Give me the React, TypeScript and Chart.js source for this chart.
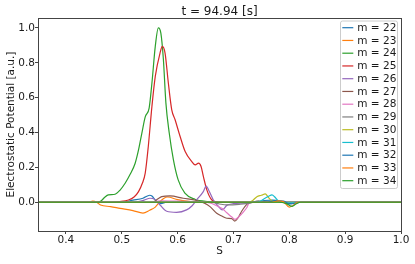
import React, { useEffect, useRef } from 'react';
import { Chart, registerables } from 'chart.js';

Chart.register(...registerables);

const TITLE = 't = 94.94 [s]';
const X_LABEL = 'S';
const Y_LABEL = 'Electrostatic Potential [a.u.]';

const xTicks = [0.4, 0.5, 0.6, 0.7, 0.8, 0.9, 1.0];
const yTicks = [0.0, 0.2, 0.4, 0.6, 0.8, 1.0];

const modes = [22, 23, 24, 25, 26, 27, 28, 29, 30, 31, 32, 33, 34];
const colors = [
  '#1f77b4', '#ff7f0e', '#2ca02c', '#d62728', '#9467bd', '#8c564b', '#e377c2',
  '#7f7f7f', '#bcbd22', '#17becf', '#1f77b4', '#ff7f0e', '#2ca02c',
];

type P = [number, number];

const m22: P[] = [[0.35, 0], [0.5, 0], [0.52, 0.012], [0.538, 0.023], [0.55, 0.04], [0.554, 0.036], [0.562, 0.005], [0.57, -0.008], [0.58, 0], [0.74, 0], [0.755, 0.01], [0.77, 0.012], [0.785, 0.005], [0.8, -0.008], [0.81, 0], [1.0, 0]];
const m23: P[] = [[0.35, 0], [0.44, 0], [0.448, 0.006], [0.455, 0], [0.462, -0.016], [0.48, -0.025], [0.497, -0.035], [0.52, -0.048], [0.538, -0.062], [0.55, -0.046], [0.56, -0.028], [0.568, 0.002], [0.575, 0.022], [0.582, 0.03], [0.6, 0.015], [0.62, 0.005], [0.64, 0], [1.0, 0]];
const m24: P[] = [[0.35, 0], [0.455, 0], [0.462, 0.005], [0.47, 0.03], [0.476, 0.042], [0.488, 0.046], [0.497, 0.07], [0.506, 0.109], [0.515, 0.16], [0.524, 0.224], [0.53, 0.3], [0.536, 0.397], [0.542, 0.49], [0.549, 0.54], [0.554, 0.684], [0.56, 0.894], [0.5655, 1.0], [0.57, 0.97], [0.5745, 0.82], [0.579, 0.57], [0.585, 0.397], [0.5925, 0.243], [0.601, 0.128], [0.613, 0.052], [0.631, 0.017], [0.655, 0.004], [0.68, 0], [1.0, 0]];
const m25: P[] = [[0.35, 0], [0.48, 0], [0.495, 0.004], [0.512, 0.013], [0.522, 0.03], [0.53, 0.061], [0.537, 0.11], [0.542, 0.167], [0.5475, 0.32], [0.554, 0.55], [0.56, 0.722], [0.5685, 0.856], [0.5726, 0.894], [0.5775, 0.856], [0.5834, 0.684], [0.5895, 0.53], [0.5955, 0.473], [0.6045, 0.377], [0.6135, 0.291], [0.6255, 0.233], [0.6315, 0.214], [0.6375, 0.224], [0.642, 0.205], [0.6462, 0.147], [0.6523, 0.071], [0.6613, 0.013], [0.673, 0], [1.0, 0]];
const m26: P[] = [[0.35, 0], [0.52, 0], [0.54, 0.012], [0.5505, 0.023], [0.5595, 0.015], [0.5685, -0.016], [0.5805, -0.052], [0.598, -0.058], [0.616, -0.044], [0.626, -0.02], [0.634, 0.013], [0.646, 0.061], [0.651, 0.092], [0.657, 0.06], [0.664, 0.013], [0.672, -0.02], [0.68, -0.044], [0.688, -0.018], [0.7, -0.008], [0.72, -0.005], [0.735, 0], [1.0, 0]];
const m27: P[] = [[0.35, 0], [0.555, 0], [0.565, 0.02], [0.5716, 0.032], [0.5865, 0.036], [0.61, 0.023], [0.634, 0.01], [0.648, -0.005], [0.658, -0.025], [0.67, -0.063], [0.679, -0.079], [0.688, -0.092], [0.697, -0.094], [0.7025, -0.108], [0.709, -0.085], [0.715, -0.05], [0.724, -0.012], [0.732, 0], [1.0, 0]];
const m28: P[] = [[0.35, 0], [0.55, 0], [0.57, 0.008], [0.6, 0.006], [0.64, 0.004], [0.66, -0.006], [0.67, -0.02], [0.679, -0.035], [0.688, -0.06], [0.697, -0.085], [0.703, -0.098], [0.709, -0.085], [0.718, -0.055], [0.724, -0.03], [0.728, -0.005], [0.735, 0], [1.0, 0]];
const m29: P[] = [[0.35, 0], [0.66, 0], [0.675, -0.01], [0.69, -0.015], [0.71, -0.012], [0.73, -0.005], [0.745, 0.008], [0.755, 0.004], [0.77, 0], [1.0, 0]];
const m30: P[] = [[0.35, 0], [0.728, 0], [0.735, 0.012], [0.742, 0.032], [0.75, 0.04], [0.757, 0.048], [0.762, 0.03], [0.768, 0.01], [0.775, 0], [1.0, 0]];
const m31: P[] = [[0.35, 0], [0.74, 0], [0.748, 0.006], [0.755, 0.02], [0.763, 0.034], [0.769, 0.042], [0.774, 0.03], [0.779, 0.012], [0.79, 0.003], [0.8, 0], [1.0, 0]];
const m32: P[] = [[0.35, 0], [0.76, 0], [0.775, 0.01], [0.79, 0.006], [0.8, -0.01], [0.81, -0.006], [0.82, 0], [1.0, 0]];
const m33: P[] = [[0.35, 0], [0.77, 0], [0.78, 0.008], [0.79, 0.002], [0.8, -0.028], [0.806, -0.02], [0.815, 0], [1.0, 0]];
const m34: P[] = [[0.35, 0], [0.78, 0], [0.795, -0.008], [0.805, -0.024], [0.812, -0.01], [0.82, 0], [1.0, 0]];

const seriesValues = [m22, m23, m24, m25, m26, m27, m28, m29, m30, m31, m32, m33, m34];

const FONT = 'DejaVu Sans';
const TEXT = '#1a1a1a';
const FRAME = '#444444';

const overlay = {
  id: 'overlay',
  afterDraw(chart: any) {
    const { ctx, chartArea: a } = chart;
    ctx.save();
    // frame
    ctx.strokeStyle = FRAME;
    ctx.lineWidth = 1;
    ctx.strokeRect(Math.round(a.left) + 0.5, Math.round(a.top) + 0.5, Math.round(a.right - a.left), Math.round(a.bottom - a.top));
    // title
    ctx.fillStyle = TEXT;
    ctx.font = `12px "${FONT}"`;
    ctx.textAlign = 'center';
    ctx.textBaseline = 'alphabetic';
    ctx.fillText(TITLE, (a.left + a.right) / 2, 15);
    // legend
    const bx = 340, by = 20.5, bw = 57, bh = 167.5;
    ctx.fillStyle = 'rgba(255,255,255,0.8)';
    ctx.strokeStyle = '#cccccc';
    ctx.beginPath();
    (ctx as any).roundRect(bx + 0.5, by + 0.5, bw, bh, 2);
    ctx.fill();
    ctx.stroke();
    ctx.font = `10.5px "${FONT}"`;
    ctx.textAlign = 'left';
    ctx.textBaseline = 'middle';
    chart.data.datasets.forEach((ds: any, i: number) => {
      const y = 27.7 + i * 12.75;
      ctx.strokeStyle = ds.borderColor;
      ctx.lineWidth = 1.2;
      ctx.beginPath();
      ctx.moveTo(342.3, y);
      ctx.lineTo(353.3, y);
      ctx.stroke();
      ctx.fillStyle = TEXT;
      ctx.fillText(ds.label, 357.3, y + 0.5);
    });
    ctx.restore();
  },
};

export default function App() {
  const ref = useRef<HTMLCanvasElement>(null);
  useEffect(() => {
    document.body.style.margin = '0';
    const font = { family: FONT, size: 10.5 };
    const chart = new Chart(ref.current!, {
      type: 'line',
      data: {
        datasets: seriesValues.map((pts, i) => ({
          label: `m = ${modes[i]}`,
          data: pts.map(([x, y]) => ({ x, y })),
          borderColor: colors[i],
          backgroundColor: colors[i],
          borderWidth: 1.2,
          pointRadius: 0,
          fill: false,
          cubicInterpolationMode: 'monotone' as const,
          order: modes.length - i,
        })),
      },
      options: {
        responsive: false,
        animation: false,
        devicePixelRatio: 1,
        layout: { padding: { top: 18, right: 14, left: 0, bottom: 0 } },
        plugins: { legend: { display: false }, tooltip: { enabled: false }, title: { display: false } },
        scales: {
          x: {
            type: 'linear',
            min: 0.35,
            max: 1.0,
            afterFit: (s: any) => { s.height = 33; },
            afterBuildTicks: (s: any) => { s.ticks = xTicks.map((v) => ({ value: v })); },
            ticks: { font, color: TEXT, padding: 0, maxRotation: 0, autoSkip: false, callback: (v: any) => Number(v).toFixed(1) },
            grid: { drawOnChartArea: false, drawTicks: true, tickLength: 3, color: FRAME },
            border: { display: false },
            title: { display: true, text: X_LABEL, font, color: TEXT, padding: { top: 0, bottom: 6.5 } },
          },
          y: {
            type: 'linear',
            min: -0.165,
            max: 1.057,
            afterFit: (s: any) => { s.width = 38; },
            afterBuildTicks: (s: any) => { s.ticks = yTicks.map((v) => ({ value: v })); },
            ticks: { font, color: TEXT, padding: 0, autoSkip: false, callback: (v: any) => Number(v).toFixed(1) },
            grid: { drawOnChartArea: false, drawTicks: true, tickLength: 3, color: FRAME },
            border: { display: false },
            title: { display: true, text: Y_LABEL, font, color: TEXT, padding: { top: 4.7, bottom: 0 } },
          },
        },
      },
      plugins: [overlay],
    });
    return () => chart.destroy();
  }, []);
  return <canvas ref={ref} width={415} height={264} style={{ display: 'block' }} />;
}
